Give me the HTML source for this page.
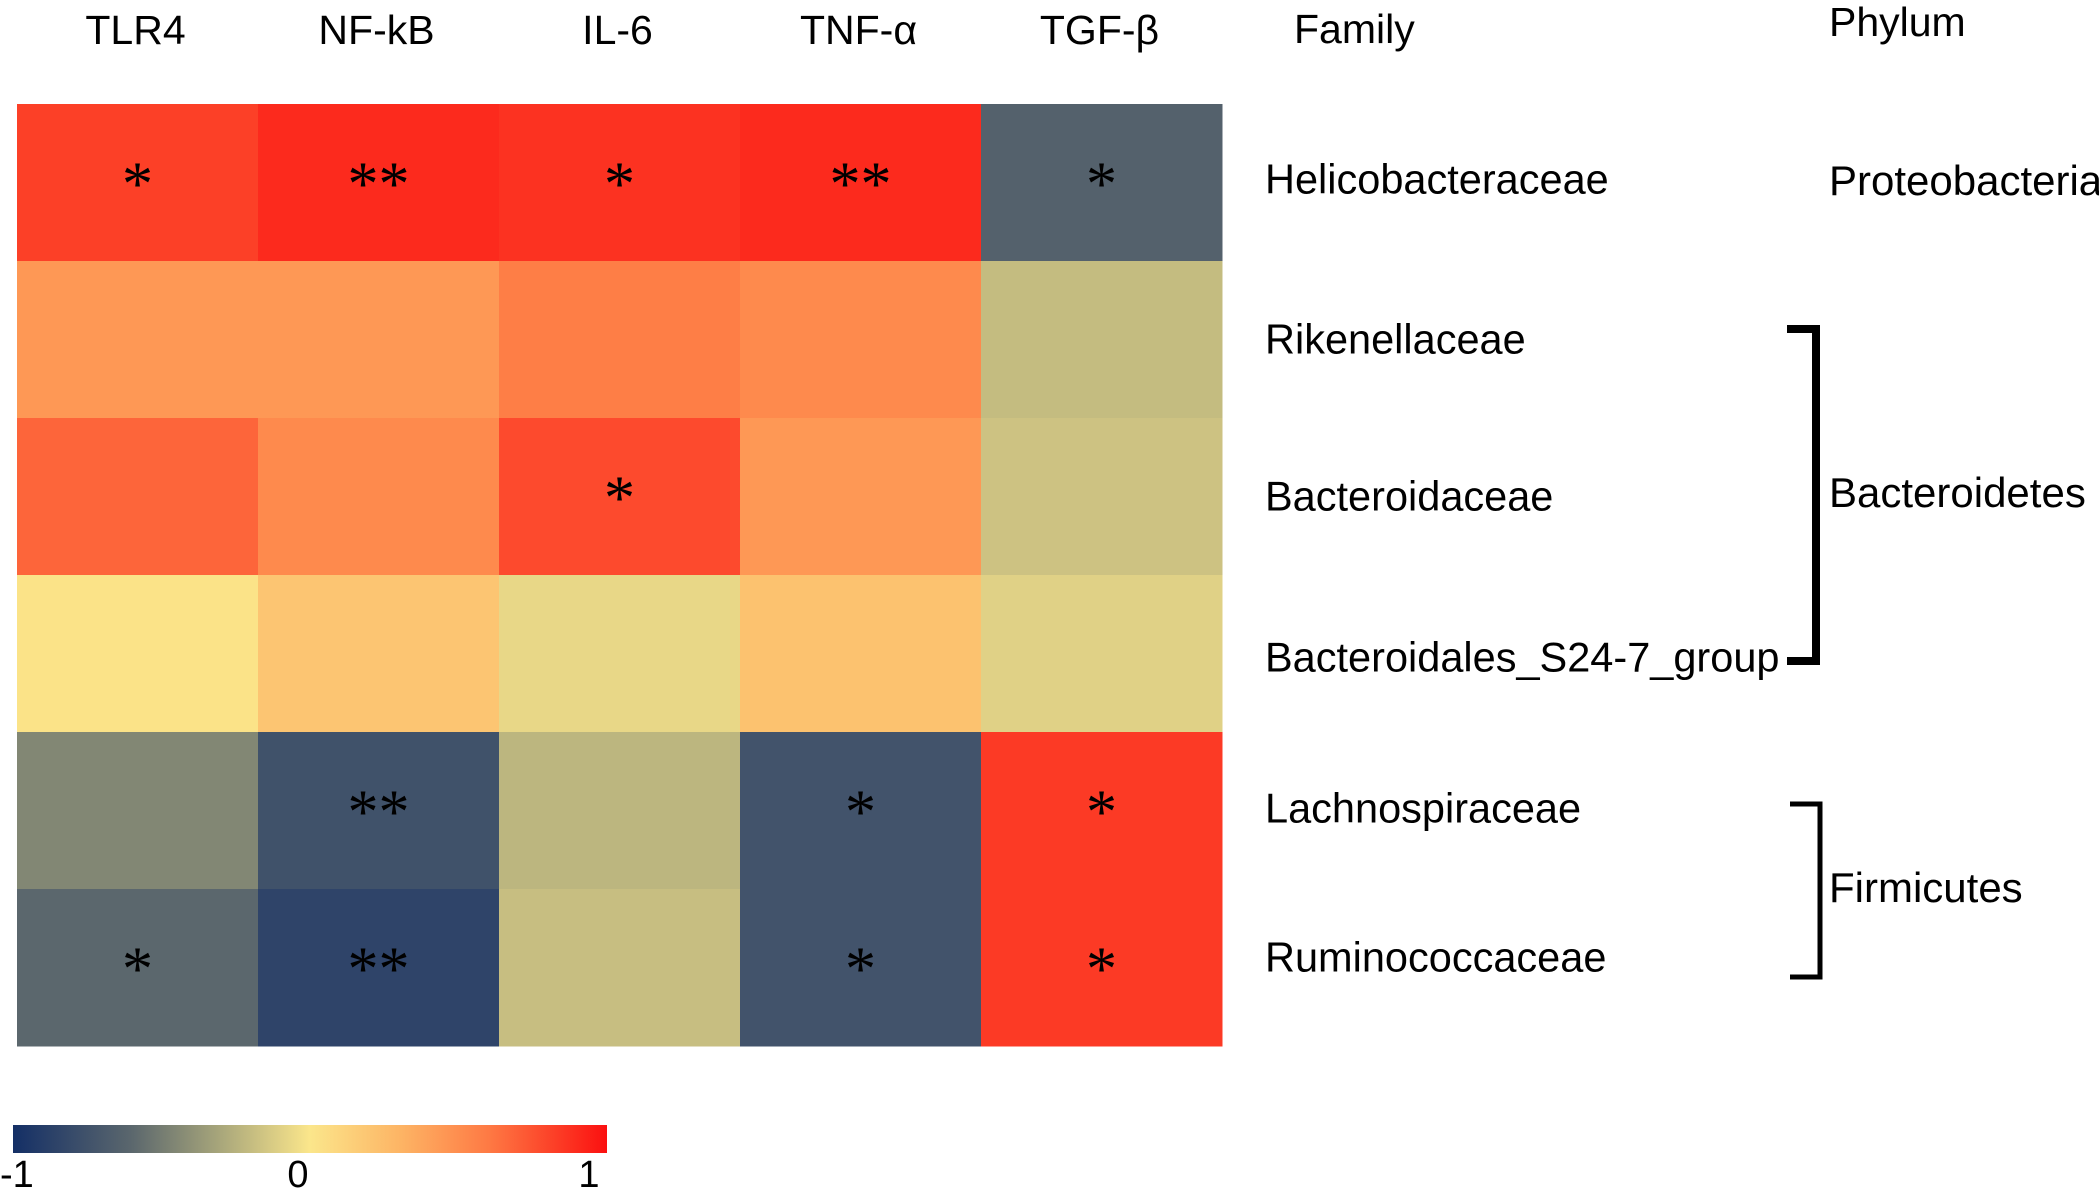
<!DOCTYPE html>
<html><head><meta charset="utf-8">
<style>
html,body{margin:0;padding:0;background:#fff;}
svg{display:block;}
text{font-family:"Liberation Sans",Arial,sans-serif;fill:#000;}
</style></head>
<body>
<svg id="chart" width="2099" height="1196" viewBox="0 0 2099 1196" xmlns="http://www.w3.org/2000/svg">
  <defs>
    <linearGradient id="cbar" x1="0" x2="1" y1="0" y2="0">
      <stop offset="0" stop-color="#142f66"/>
      <stop offset="0.2" stop-color="#5b676d"/>
      <stop offset="0.35" stop-color="#a9a77b"/>
      <stop offset="0.5" stop-color="#fbe68b"/>
      <stop offset="0.65" stop-color="#fdb565"/>
      <stop offset="0.8" stop-color="#fe7a44"/>
      <stop offset="1" stop-color="#fb1010"/>
    </linearGradient>
  </defs>
  <g id="cells"></g>
  <g id="stars"></g>
  <g id="collabels"></g>
  <g id="rowlabels"></g>
  <text x="1294" y="43" font-size="41">Family</text>
  <text x="1829" y="36" font-size="41">Phylum</text>
  <text x="1829" y="195" font-size="42">Proteobacteria</text>
  <text x="1829" y="507" font-size="42">Bacteroidetes</text>
  <text x="1829" y="902" font-size="42">Firmicutes</text>
  <path d="M1787 329 H1816 V661 H1787" fill="none" stroke="#000" stroke-width="8"/>
  <path d="M1790 804 H1820 V977 H1790" fill="none" stroke="#000" stroke-width="5"/>
  <rect x="13" y="1125" width="594" height="28" fill="url(#cbar)"/>
  <text x="0" y="1187" font-size="38">-1</text>
  <text x="298" y="1187" font-size="38" text-anchor="middle">0</text>
  <text x="589" y="1187" font-size="38" text-anchor="middle">1</text>
</svg>
<script>
const columns = ["TLR4", "NF-kB", "IL-6", "TNF-\u03b1", "TGF-\u03b2"];
const families = ["Helicobacteraceae", "Rikenellaceae", "Bacteroidaceae", "Bacteroidales_S24-7_group", "Lachnospiraceae", "Ruminococcaceae"];
const row0 = [0.82, 0.90, 0.87, 0.90, -0.64];
const row1 = [0.45, 0.45, 0.58, 0.52, -0.20];
const row2 = [0.68, 0.52, 0.78, 0.45, -0.17];
const row3 = [0.02, 0.20, -0.07, 0.22, -0.10];
const row4 = [-0.45, -0.75, -0.23, -0.74, 0.84];
const row5 = [-0.60, -0.85, -0.19, -0.74, 0.84];
const values = [row0, row1, row2, row3, row4, row5];
const stars0 = ["*", "**", "*", "**", "*"];
const stars1 = ["", "", "", "", ""];
const stars2 = ["", "", "*", "", ""];
const stars3 = ["", "", "", "", ""];
const stars4 = ["", "**", "", "*", "*"];
const stars5 = ["*", "**", "", "*", "*"];
const stars = [stars0, stars1, stars2, stars3, stars4, stars5];

const NS = "http://www.w3.org/2000/svg";
const X0 = 17, X1 = 1222, Y0 = 104, Y1 = 1046;
const cw = (X1 - X0) / columns.length, rh = (Y1 - Y0) / families.length;
const xPos = i => X0 + i * cw;
const yPos = j => Y0 + j * rh;
const stops = [[-1,[20,47,102]],[-0.6,[91,103,109]],[-0.3,[169,167,123]],[0,[251,230,139]],[0.3,[253,181,101]],[0.6,[254,122,68]],[1,[251,16,16]]];
function color(v){
  for(let k=0;k<stops.length-1;k++){
    const a=stops[k], b=stops[k+1];
    if(v<=b[0]){const t=(v-a[0])/(b[0]-a[0]);
      const c=a[1].map((x,i)=>Math.round(x+(b[1][i]-x)*t));
      return `rgb(${c[0]},${c[1]},${c[2]})`;}
  }
  return "rgb(251,16,16)";
}
const cells = document.getElementById("cells");
const starG = document.getElementById("stars");
values.forEach((row, j) => {
  row.forEach((v, i) => {
    const r = document.createElementNS(NS, "rect");
    
    
    r.setAttribute("x", xPos(i)); r.setAttribute("y", yPos(j));
    r.setAttribute("width", cw + 0.5); r.setAttribute("height", rh + 0.5);
    r.setAttribute("fill", color(v));
    cells.appendChild(r);
    const s = stars[j][i];
    if (s) {
      const t = document.createElementNS(NS, "text");
      
      
      t.setAttribute("x", xPos(i) + cw / 2); t.setAttribute("y", yPos(j) + rh / 2 + 22);
      t.setAttribute("text-anchor", "middle");
      t.setAttribute("font-size", "62");
      t.setAttribute("style", "font-family:'Liberation Serif',serif");
      t.textContent = s;
      starG.appendChild(t);
    }
  });
});
const colG = document.getElementById("collabels");
columns.forEach((c, i) => {
  const t = document.createElementNS(NS, "text");
  
  
  t.setAttribute("x", xPos(i) + cw / 2 - 2); t.setAttribute("y", 44);
  t.setAttribute("text-anchor", "middle"); t.setAttribute("font-size", "41");
  t.textContent = c; colG.appendChild(t);
});
const rowG = document.getElementById("rowlabels");
families.forEach((f, j) => {
  const t = document.createElementNS(NS, "text");
  
  
  t.setAttribute("x", 1265); t.setAttribute("y", yPos(j) + rh / 2 + 14 - (j===0?1:0) + [ -2,0,0,4,-2,-10 ][j]);
  t.setAttribute("font-size", "41.5");
  t.textContent = f; rowG.appendChild(t);
});
</script>
</body></html>
